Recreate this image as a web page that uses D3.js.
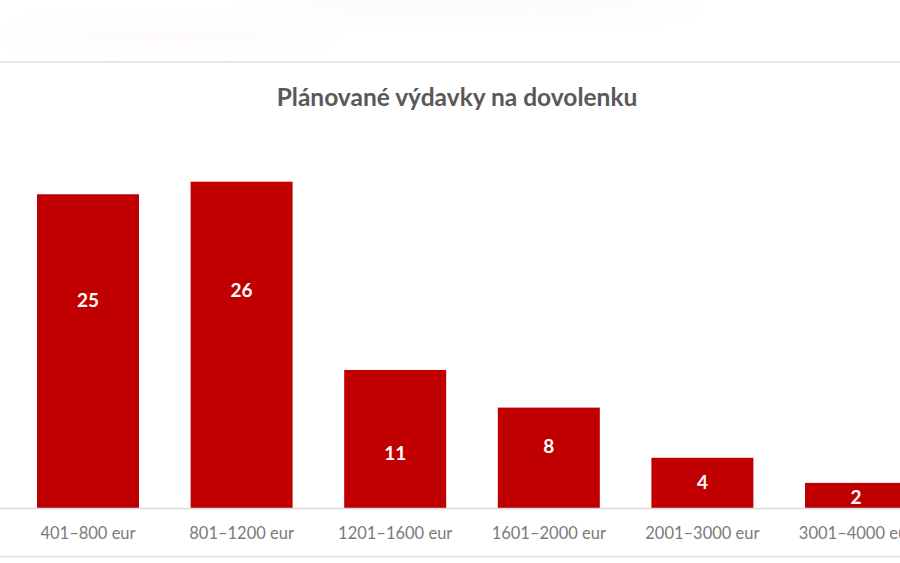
<!DOCTYPE html>
<html>
<head>
<meta charset="utf-8">
<script src="https://cdn.jsdelivr.net/npm/d3@7"></script>
<style>
  html, body { margin: 0; padding: 0; background: #ffffff; }
  svg { display: block; }
</style>
</head>
<body>
<svg id="chart" width="900" height="563"></svg>
<script>
// ---- data ----
const title = "Plánované výdavky na dovolenku";
const categories = ["401–800 eur", "801–1200 eur", "1201–1600 eur", "1601–2000 eur", "2001–3000 eur", "3001–4000 eur"];
const values = [25, 26, 11, 8, 4, 2];
// where each value label sits along the value axis (data units)
const labelAt = [16.6, 17.4, 4.4, 5.0, 2.1, 0.9];

// ---- layout ----
const W = 900, H = 563;
const svg = d3.select("#chart");
const baseY = 508, topY = 181.7;

const defs = svg.append("defs");
defs.append("filter").attr("id", "blur").attr("x", "-50%").attr("y", "-200%").attr("width", "200%").attr("height", "500%")
  .append("feGaussianBlur").attr("stdDeviation", 12);

// faint blurred remnants at the top of the screenshot
svg.append("ellipse").attr("cx", 170).attr("cy", 36).attr("rx", 160).attr("ry", 8)
  .attr("fill", "#fbe4e4").attr("opacity", 0.3).attr("filter", "url(#blur)");
svg.append("ellipse").attr("cx", 470).attr("cy", 4).attr("rx", 230).attr("ry", 8)
  .attr("fill", "#ededed").attr("opacity", 0.4).attr("filter", "url(#blur)");

// top frame line
svg.append("rect").attr("x", 0).attr("y", 61).attr("width", W).attr("height", 2).attr("fill", "#e6e6e6");
// bottom frame line
svg.append("rect").attr("x", 0).attr("y", 556).attr("width", W).attr("height", 1.5).attr("fill", "#e3e3e3");

const x = d3.scaleBand().domain(categories).range([11.2, 932.8]).paddingInner(0.336).paddingOuter(0.168);
const y = d3.scaleLinear().domain([0, 26]).range([baseY, topY]);

// title
svg.append("text").attr("x", 457).attr("y", 96).attr("text-anchor", "middle").attr("dominant-baseline", "central")
  .attr("font-family", "Lato, 'Open Sans', sans-serif").attr("font-weight", 700).attr("font-size", 24.5)
  .attr("fill", "#595959").text(title);

// bars
svg.append("g").selectAll("rect").data(values).join("rect")
  .attr("x", (d, i) => x(categories[i]))
  .attr("y", d => y(d))
  .attr("width", x.bandwidth())
  .attr("height", d => baseY - y(d))
  .attr("fill", "#c00000");

// axis
const axis = svg.append("g").attr("transform", `translate(0,${baseY})`)
  .call(d3.axisBottom(x).tickSize(0).tickPadding(19));
axis.select(".domain").attr("stroke", "#d9d9d9").attr("stroke-width", 1.5).attr("d", `M0,0.5H${W}`);
axis.selectAll(".tick text")
  .attr("font-family", "Lato, 'Open Sans', sans-serif").attr("font-size", 16.5)
  .attr("fill", "#7a7a7a");

// value labels
svg.append("g").selectAll("text").data(values).join("text")
  .attr("x", (d, i) => x(categories[i]) + x.bandwidth() / 2)
  .attr("y", (d, i) => y(labelAt[i]))
  .attr("text-anchor", "middle").attr("dominant-baseline", "central")
  .attr("font-family", "Lato, 'Open Sans', sans-serif").attr("font-weight", 700).attr("font-size", 19)
  .attr("fill", "#ffffff").text(d => d);
</script>
</body>
</html>
